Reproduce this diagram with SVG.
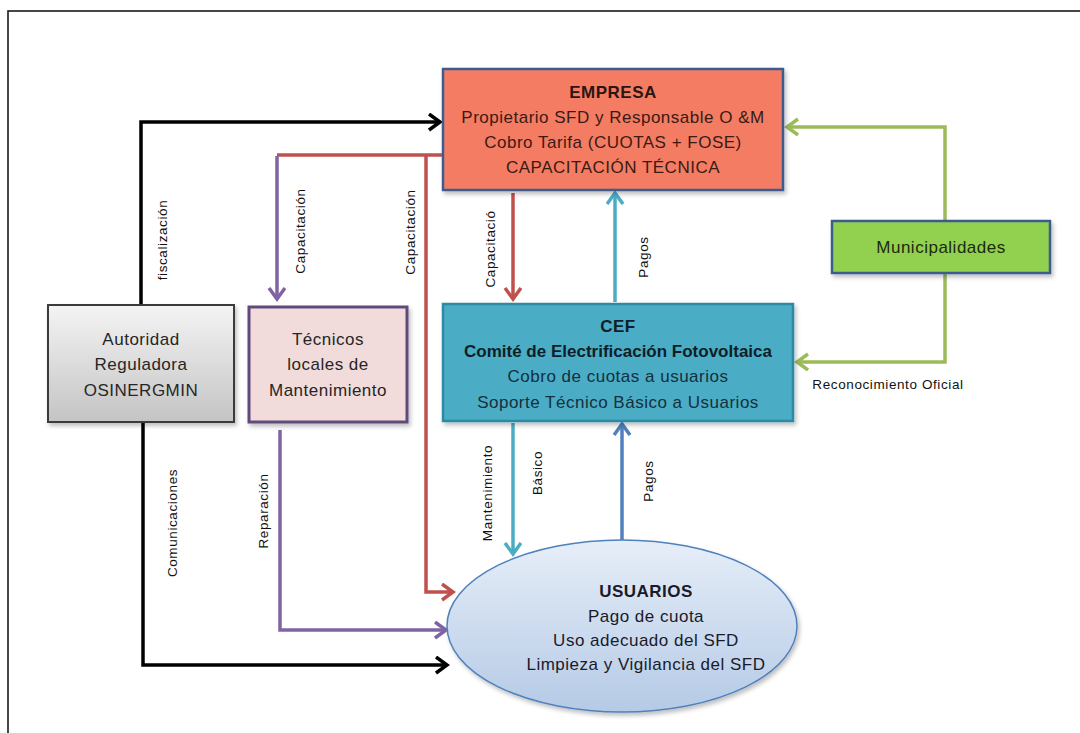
<svg xmlns="http://www.w3.org/2000/svg" width="1080" height="733" viewBox="0 0 1080 733">
<defs>
<style>
.t{font-family:"Liberation Sans",Arial,sans-serif;text-anchor:middle}
.box{font-size:17px;letter-spacing:0.5px}
.b{font-weight:bold}
.lbl{font-family:"Liberation Sans",Arial,sans-serif;font-size:13.5px;letter-spacing:0.6px;fill:#111;text-anchor:middle;dominant-baseline:central}
.c{fill:none;stroke-width:3.5;stroke-linejoin:miter}
</style>
<linearGradient id="gGray" x1="0" y1="0" x2="0" y2="1"><stop offset="0" stop-color="#f4f4f4"/><stop offset="1" stop-color="#c4c4c4"/></linearGradient>
<linearGradient id="gBlue" x1="0" y1="0" x2="0" y2="1"><stop offset="0" stop-color="#e6eef8"/><stop offset="1" stop-color="#b5cae6"/></linearGradient>
<filter id="sh" x="-10%" y="-10%" width="130%" height="130%"><feDropShadow dx="2" dy="3" stdDeviation="2" flood-color="#000" flood-opacity="0.25"/></filter>
<marker id="mK" markerUnits="userSpaceOnUse" markerWidth="20" markerHeight="20" refX="12" refY="9" orient="auto"><path d="M1,1 L12,9 L1,17" fill="none" stroke="#000" stroke-width="3.5"/></marker>
<marker id="mR" markerUnits="userSpaceOnUse" markerWidth="20" markerHeight="20" refX="12" refY="9" orient="auto"><path d="M1,1 L12,9 L1,17" fill="none" stroke="#c0504d" stroke-width="3.5"/></marker>
<marker id="mP" markerUnits="userSpaceOnUse" markerWidth="20" markerHeight="20" refX="12" refY="9" orient="auto"><path d="M1,1 L12,9 L1,17" fill="none" stroke="#8064a2" stroke-width="3.5"/></marker>
<marker id="mT" markerUnits="userSpaceOnUse" markerWidth="20" markerHeight="20" refX="12" refY="9" orient="auto"><path d="M1,1 L12,9 L1,17" fill="none" stroke="#4bacc6" stroke-width="3.5"/></marker>
<marker id="mB" markerUnits="userSpaceOnUse" markerWidth="20" markerHeight="20" refX="12" refY="9" orient="auto"><path d="M1,1 L12,9 L1,17" fill="none" stroke="#4f81bd" stroke-width="3.5"/></marker>
<marker id="mG" markerUnits="userSpaceOnUse" markerWidth="20" markerHeight="20" refX="12" refY="9" orient="auto"><path d="M1,1 L12,9 L1,17" fill="none" stroke="#9bbb59" stroke-width="3.5"/></marker>
</defs>
<rect x="0" y="0" width="1080" height="733" fill="#fff"/>
<rect x="8" y="11" width="1100" height="800" fill="none" stroke="#1a1a1a" stroke-width="1.6"/>

<g id="connectors">
<path class="c" stroke="#000" d="M141,305 V122 H440" marker-end="url(#mK)"/>
<path class="c" stroke="#000" d="M143,422 V665 H447" marker-end="url(#mK)"/>
<path class="c" stroke="#c0504d" d="M443,155 H277"/>
<path class="c" stroke="#c0504d" d="M426,155 V592 H453" marker-end="url(#mR)"/>
<path class="c" stroke="#8064a2" d="M277,156 V299" marker-end="url(#mP)"/>
<path class="c" stroke="#8064a2" d="M280,430 V630 H446" marker-end="url(#mP)"/>
<path class="c" stroke="#c0504d" d="M513,193 V299" marker-end="url(#mR)"/>
<path class="c" stroke="#4bacc6" d="M615,302 V193" marker-end="url(#mT)"/>
<path class="c" stroke="#4bacc6" d="M513,423 V554" marker-end="url(#mT)"/>
<path class="c" stroke="#4f81bd" d="M622,540 V424" marker-end="url(#mB)"/>
<path class="c" stroke="#9bbb59" d="M945,221 V127 H787" marker-end="url(#mG)"/>
<path class="c" stroke="#9bbb59" d="M945,273 V362 H797" marker-end="url(#mG)"/>
<text class="lbl" transform="rotate(-90 162 240)" x="162" y="240">fiscalización</text>
<text class="lbl" transform="rotate(-90 300 231)" x="300" y="231">Capacitación</text>
<text class="lbl" transform="rotate(-90 410 232)" x="410" y="232">Capacitación</text>
<text class="lbl" transform="rotate(-90 490 249)" x="490" y="249">Capacitació</text>
<text class="lbl" transform="rotate(-90 643 257)" x="643" y="257">Pagos</text>
<text class="lbl" transform="rotate(-90 487 493)" x="487" y="493">Mantenimiento</text>
<text class="lbl" transform="rotate(-90 537 473)" x="537" y="473">Básico</text>
<text class="lbl" transform="rotate(-90 648 481)" x="648" y="481">Pagos</text>
<text class="lbl" transform="rotate(-90 172 523)" x="172" y="523">Comunicaciones</text>
<text class="lbl" transform="rotate(-90 263 511)" x="263" y="511">Reparación</text>
<text class="lbl" x="888" y="384">Reconocimiento Oficial</text>
</g>

<g id="empresa">
<rect x="443" y="69" width="340" height="121" fill="#f47c64" stroke="#3e5b8e" stroke-width="2.5" filter="url(#sh)"/>
<text class="t box b" x="613" y="98" fill="#2b1510">EMPRESA</text>
<text class="t box" x="613" y="123" fill="#3b1a14">Propietario SFD y Responsable O &amp;M</text>
<text class="t box" x="613" y="148" fill="#3b1a14">Cobro Tarifa (CUOTAS + FOSE)</text>
<text class="t box" x="613" y="173" fill="#3b1a14">CAPACITACIÓN TÉCNICA</text>
</g>

<g id="cef">
<rect x="443" y="304" width="350" height="117" fill="#4bacc6" stroke="#2f8aa4" stroke-width="2.5" filter="url(#sh)"/>
<text class="t box b" x="618" y="332" fill="#0f1e26">CEF</text>
<text class="t box b" x="618" y="357" fill="#0f1e26" style="letter-spacing:0px">Comité de Electrificación Fotovoltaica</text>
<text class="t box" x="618" y="382" fill="#13303c">Cobro de cuotas a usuarios</text>
<text class="t box" x="618" y="408" fill="#13303c">Soporte Técnico Básico a Usuarios</text>
</g>

<g id="municipalidades">
<rect x="832" y="221" width="218" height="52" fill="#92d050" stroke="#3e5b8e" stroke-width="2.5" filter="url(#sh)"/>
<text class="t box" x="941" y="253" fill="#1c2a0e">Municipalidades</text>
</g>

<g id="autoridad">
<rect x="48" y="305" width="186" height="117" fill="url(#gGray)" stroke="#3a3a3a" stroke-width="2" filter="url(#sh)"/>
<text class="t box" x="141" y="345" fill="#262626">Autoridad</text>
<text class="t box" x="141" y="370" fill="#262626">Reguladora</text>
<text class="t box" x="141" y="396" fill="#262626">OSINERGMIN</text>
</g>

<g id="tecnicos">
<rect x="249" y="307" width="158" height="115" fill="#f2dcdb" stroke="#604a7b" stroke-width="3" filter="url(#sh)"/>
<text class="t box" x="328" y="345" fill="#262626">Técnicos</text>
<text class="t box" x="328" y="370" fill="#262626">locales de</text>
<text class="t box" x="328" y="396" fill="#262626">Mantenimiento</text>
</g>

<g id="usuarios">
<ellipse cx="622" cy="626" rx="175" ry="86" fill="url(#gBlue)" stroke="#4f81bd" stroke-width="1.5" filter="url(#sh)"/>
<text class="t box b" x="646" y="597" fill="#1a1a2a">USUARIOS</text>
<text class="t box" x="646" y="622" fill="#1a1a2a">Pago de cuota</text>
<text class="t box" x="646" y="646" fill="#1a1a2a">Uso adecuado del SFD</text>
<text class="t box" x="646" y="670" fill="#1a1a2a">Limpieza y Vigilancia del SFD</text>
</g>
</svg>
